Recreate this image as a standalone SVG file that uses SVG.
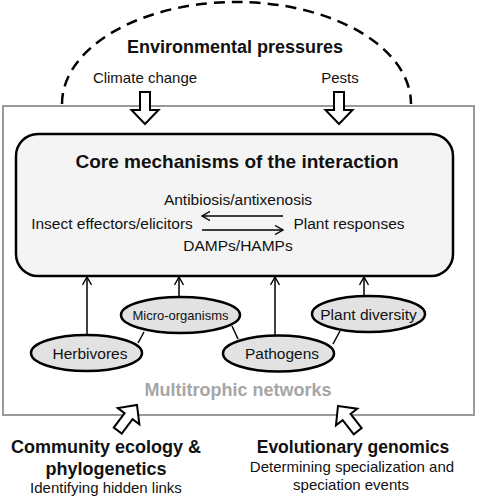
<svg xmlns="http://www.w3.org/2000/svg" width="477" height="500" viewBox="0 0 477 500">
<style>
text{font-family:"Liberation Sans",Arial,sans-serif;fill:#111;text-anchor:middle}
.b{font-weight:bold}
.big{font-size:18px;font-weight:bold}
.m{font-size:15.5px}
.s{font-size:15px}
.ell{fill:#e2e2e2;stroke:#000;stroke-width:2.5}
.con{stroke:#000;stroke-width:1.5;fill:none}
.fat{fill:#fff;stroke:#000;stroke-width:2;stroke-linejoin:miter}
</style>
<defs>
<marker id="open" viewBox="0 0 10 10" refX="9" refY="5" markerWidth="10" markerHeight="10" markerUnits="userSpaceOnUse" orient="auto">
<path d="M1,0.5 L9,5 L1,9.5" fill="none" stroke="#000" stroke-width="1.4"/>
</marker>
<path id="fatArrow" d="M0,0 L13.5,14 L5,14 L5,32 L-5,32 L-5,14 L-13.5,14 Z"/>
</defs>
<path id="pressure-arc" d="M62,104 A174.5,102 0 0 1 411,104" fill="none" stroke="#000" stroke-width="2.5" stroke-dasharray="11 7"/>
<rect id="multitrophic-frame" x="3" y="106" width="471" height="309" fill="#fff" stroke="#9a9a9a" stroke-width="2"/>
<g id="environmental-pressures">
<text class="big" x="235" y="53">Environmental pressures</text>
<text class="s" x="145" y="83">Climate change</text>
<text class="s" x="340" y="83">Pests</text>
</g>
<g id="core">
<rect x="16" y="134" width="437" height="142" rx="22" fill="#f4f4f4" stroke="#000" stroke-width="2.5"/>
<text class="b" style="font-size:19px" x="237" y="168">Core mechanisms of the interaction</text>
<text class="m" x="238" y="205">Antibiosis/antixenosis</text>
<text class="m" x="112" y="229">Insect effectors/elicitors</text>
<text class="m" x="349" y="229">Plant responses</text>
<text class="m" x="238" y="251">DAMPs/HAMPs</text>
</g>
<g id="connectors">
<line class="con" x1="283" y1="216" x2="202" y2="216" marker-end="url(#open)"/>
<line class="con" x1="202" y1="230" x2="283" y2="230" marker-end="url(#open)"/>
<line class="con" x1="87" y1="335" x2="87" y2="277" marker-end="url(#open)"/>
<line class="con" x1="179" y1="297" x2="179" y2="277" marker-end="url(#open)"/>
<line class="con" x1="275" y1="335" x2="275" y2="277" marker-end="url(#open)"/>
<line class="con" x1="364" y1="296" x2="364" y2="277" marker-end="url(#open)"/>
<line class="con" x1="138" y1="343" x2="144" y2="332"/>
<line class="con" x1="232" y1="326" x2="238" y2="339"/>
<line class="con" x1="333" y1="344" x2="340" y2="331"/>
<use href="#fatArrow" class="fat" transform="translate(145,124) rotate(180)"/>
<use href="#fatArrow" class="fat" transform="translate(339,124) rotate(180)"/>
<use href="#fatArrow" class="fat" transform="translate(137,405) rotate(37)"/>
<use href="#fatArrow" class="fat" transform="translate(338,406) rotate(-38)"/>
</g>
<g id="micro-organisms">
<ellipse class="ell" cx="180.5" cy="315" rx="59.5" ry="18"/>
<text x="180.5" y="320" style="font-size:13px">Micro-organisms</text>
</g>
<g id="plant-diversity">
<ellipse class="ell" cx="368.5" cy="314" rx="56.5" ry="18"/>
<text class="m" x="368.5" y="319.5">Plant diversity</text>
</g>
<g id="herbivores">
<ellipse class="ell" cx="86.5" cy="353" rx="55.5" ry="18"/>
<text class="m" x="90" y="358.5">Herbivores</text>
</g>
<g id="pathogens">
<ellipse class="ell" cx="278.5" cy="353.5" rx="55.5" ry="18"/>
<text class="m" x="282" y="359">Pathogens</text>
</g>
<text id="multitrophic-label" class="big" x="238" y="396" style="fill:#a6a6a6">Multitrophic networks</text>
<g id="community-ecology">
<text class="big" x="106" y="453">Community ecology &amp;</text>
<text class="big" x="106" y="475">phylogenetics</text>
<text class="s" x="106" y="493">Identifying hidden links</text>
</g>
<g id="evolutionary-genomics">
<text class="big" x="353" y="453" style="font-size:17.5px">Evolutionary genomics</text>
<text class="s" x="352" y="472">Determining specialization and</text>
<text class="s" x="351" y="490">speciation events</text>
</g>
</svg>
